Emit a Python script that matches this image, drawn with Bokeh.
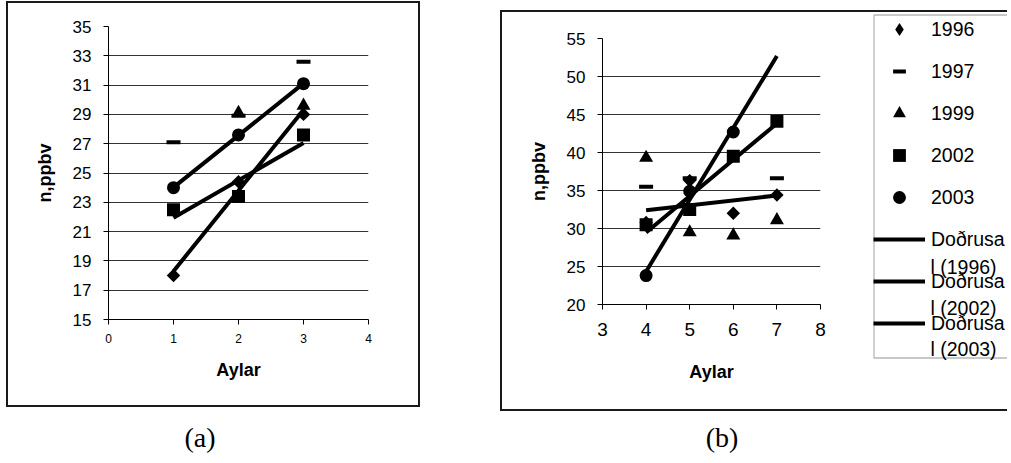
import numpy as np
from bokeh.plotting import figure
from bokeh.layouts import row, column
from bokeh.models import (Range1d, FixedTicker, BoxAnnotation, Label, Legend, LegendItem, Div)
from bokeh.embed import file_html
from bokeh.resources import INLINE

nan = float("nan")

# ---------------- data ----------------
years = ["1996", "1997", "1999", "2002", "2003"]
trend_years = ["1996", "2002", "2003"]

months_a = [1, 2, 3]
a_1996 = [18.0, 24.4, 29.0]
a_1997 = [27.1, 28.9, 32.6]
a_1999 = [nan, 29.1, 29.6]
a_2002 = [22.5, 23.4, 27.6]
a_2003 = [24.0, 27.6, 31.1]

months_b = [4, 5, 6, 7]
b_1996 = [30.8, 36.3, 32.0, 34.4]
b_1997 = [35.5, 36.6, nan, 36.6]
b_1999 = [39.3, 29.5, 29.1, 31.1]
b_2002 = [30.5, 32.5, 39.5, 44.1]
b_2003 = [23.8, 34.9, 42.7, nan]

a_yticks = [15, 17, 19, 21, 23, 25, 27, 29, 31, 33, 35]
a_xticks = [0, 1, 2, 3, 4]
b_yticks = [20, 25, 30, 35, 40, 45, 50, 55]
b_xticks = [3, 4, 5, 6, 7, 8]

x_label = "Aylar"
y_label = "n,ppbv"
trend_word = "Doðrusa"
trend_tail = ["l (1996)", "l (2002)", "l (2003)"]
captions = ["(a)", "(b)"]

# ---------------- styles ----------------
SANS = "Liberation Sans"
SERIF = "Liberation Serif"
BORDER = "2px solid #1a1a1a"
marker_style = {
    "1996": dict(marker="square", size=9.5, angle=np.pi / 4, line_width=0),
    "1997": dict(marker="dash", size=14, line_width=4),
    "1999": dict(marker="triangle", size=14, line_width=0),
    "2002": dict(marker="square", size=13, line_width=0),
    "2003": dict(marker="circle", size=13, line_width=0),
}
# legend swatches are drawn unrotated, so the 1996 swatch uses the diamond marker
legend_style = dict(marker_style)
legend_style["1996"] = dict(marker="diamond", line_width=0)


def trend(xs, ys, span):
    xs = np.asarray(xs, float)
    ys = np.asarray(ys, float)
    m = ~np.isnan(ys)
    k, b = np.polyfit(xs[m], ys[m], 1)
    return [span[0], span[1]], [k * span[0] + b, k * span[1] + b]


def make_panel(width, height, borders, xr, yr, xticks, yticks, xfs, yfs,
               xstand, xlstand, months, series, **kw):
    left, right, top, bottom = borders
    p = figure(width=width, height=height, x_range=Range1d(*xr), y_range=Range1d(*yr),
               output_backend="svg", toolbar_location=None, frame_align=False,
               min_border_left=left, min_border_right=right,
               min_border_top=top, min_border_bottom=bottom, **kw)
    p.outline_line_color = None
    p.background_fill_color = "white"
    p.border_fill_color = "white"
    p.xgrid.grid_line_color = None
    p.ygrid.grid_line_color = "#333333"
    p.ygrid.grid_line_width = 1
    p.xaxis.ticker = FixedTicker(ticks=xticks)
    p.yaxis.ticker = FixedTicker(ticks=yticks)
    for ax in (p.xaxis[0], p.yaxis[0]):
        ax.axis_line_color = "black"
        ax.axis_line_width = 1
        ax.major_tick_line_color = "black"
        ax.major_tick_in = 0
        ax.major_tick_out = 5
        ax.minor_tick_line_color = None
        ax.major_label_text_font = SANS
        ax.major_label_text_color = "black"
        ax.axis_label_text_font = SANS
        ax.axis_label_text_font_style = "bold"
        ax.axis_label_text_font_size = "18px"
        ax.axis_label_text_color = "black"
    p.xaxis.major_label_text_font_size = xfs
    p.yaxis.major_label_text_font_size = yfs
    p.yaxis.major_label_standoff = 12
    p.xaxis.major_label_standoff = xstand
    p.yaxis.axis_label_standoff = 15
    p.xaxis.axis_label_standoff = xlstand
    p.xaxis.axis_label = x_label
    p.yaxis.axis_label = y_label

    for yr_, vals in zip(years, series):
        p.scatter(months, vals, color="black", **marker_style[yr_])
    span = (min(months), max(months))
    for yr_ in trend_years:
        tx, ty = trend(months, series[years.index(yr_)], span)
        p.line(tx, ty, line_color="black", line_width=4)
    return p


# ---------------- panel (a) ----------------
pa = make_panel(414, 406, (100, 54, 23, 90), (0, 4), (15, 35), a_xticks, a_yticks,
                "12px", "17px", 9, 14, months_a,
                [a_1996, a_1997, a_1999, a_2002, a_2003],
                margin=(1, 0, 0, 6), styles={"border": BORDER})

# ---------------- panel (b) ----------------
pb = make_panel(370, 397, (100, 52, 26, 105), (3, 8), (20, 55), b_xticks, b_yticks,
                "19px", "17px", 13, 23, months_b,
                [b_1996, b_1997, b_1999, b_2002, b_2003])

# ---------------- legend of (b) ----------------
pl = figure(width=135, height=397, x_range=Range1d(0, 1), y_range=Range1d(0, 1),
            x_axis_type=None, y_axis_type=None, output_backend="svg",
            toolbar_location=None, frame_align=False,
            min_border_left=0, min_border_right=0, min_border_top=0, min_border_bottom=30)
pl.outline_line_color = None
pl.grid.visible = False
pl.background_fill_color = "white"
pl.border_fill_color = "white"
FRAME_H = 367
# swatch renderers: one undefined point each, so only the legend shows them
leg_renderers = [pl.scatter(x=[nan], y=[nan], color="black", **legend_style[y]) for y in years]
leg_lines = [pl.line(x=[nan, nan], y=[nan, nan], line_color="black", line_width=4)
             for _ in trend_years]
pl.add_layout(BoxAnnotation(left=1.5, right=400, top=FRAME_H - 2.5, bottom=FRAME_H - 345.5,
                            left_units="screen", right_units="screen",
                            top_units="screen", bottom_units="screen",
                            fill_alpha=0, line_color="#111111", line_width=1.3))
items = [LegendItem(label=y, renderers=[r]) for y, r in zip(years, leg_renderers)]
items += [LegendItem(label=trend_word, renderers=[l]) for l in leg_lines]
leg = Legend(items=items, location=(1, FRAME_H - (1.3 + 326)), orientation="vertical",
             glyph_width=52, glyph_height=32, spacing=10, padding=0, margin=0,
             label_standoff=6, border_line_alpha=0, background_fill_alpha=0,
             label_text_font=SANS, label_text_font_size="19.5px", label_text_color="black")
pl.add_layout(leg)
for i, t in enumerate(trend_tail):
    pl.add_layout(Label(x=58, y=FRAME_H - (254.7 + 41 * i), x_units="screen", y_units="screen",
                        text=t, text_font=SANS, text_font_size="19.5px",
                        text_align="left", text_baseline="middle", text_color="black"))

pbl = row(pb, pl, spacing=0, margin=(10, 0, 0, 80),
          styles={"border-top": BORDER, "border-left": BORDER, "border-bottom": BORDER})

cap_style = {"font-family": SERIF, "font-size": "28px", "line-height": "28px",
             "text-align": "center", "color": "black"}
div_a = Div(text=captions[0], width=400, height=36, margin=(13, 0, 0, 0), styles=cap_style)
div_b = Div(text=captions[1], width=200, height=36, margin=(13, 0, 0, 222), styles=cap_style)

layout = column(row(pa, pbl, spacing=0), row(div_a, div_b, spacing=0), spacing=0)
open("out.html", "w").write(file_html(layout, INLINE))
